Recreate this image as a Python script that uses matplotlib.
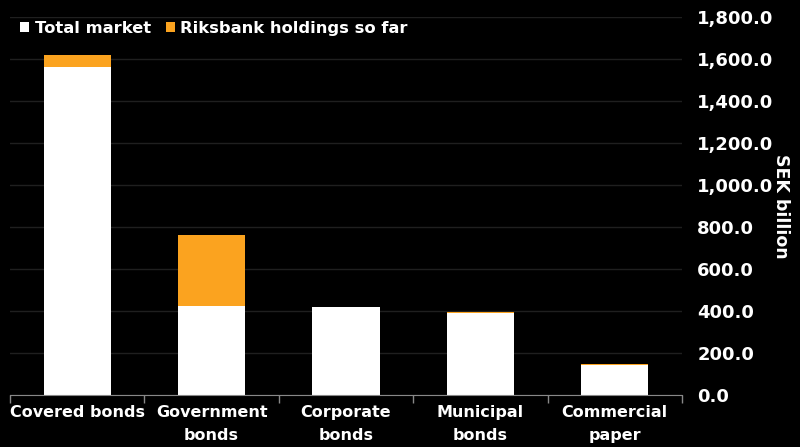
import matplotlib
matplotlib.use("Agg")
import matplotlib.pyplot as plt
from matplotlib.patches import Patch
from matplotlib.ticker import FuncFormatter, FixedLocator

categories = ["Covered bonds", "Government\nbonds", "Corporate\nbonds", "Municipal\nbonds", "Commercial\npaper"]
total_market = [1563, 424, 419, 388, 145]
riksbank_holdings = [56, 338, 0, 5, 5]
yticks = [0, 200, 400, 600, 800, 1000, 1200, 1400, 1600, 1800]

ORANGE = "#FBA31F"
BG = "#000000"
GRID = "#1f1f1f"

plt.rcParams['font.family'] = ['DejaVu Sans']
fig = plt.figure(figsize=(8, 4.47), dpi=100, facecolor=BG)
ax = fig.add_axes([0.0125, 0.1163, 0.84, 0.846], facecolor=BG)

x = list(range(len(categories)))
ax.bar(x, total_market, width=0.5, color="white", zorder=3)
ax.bar(x, riksbank_holdings, width=0.5, bottom=total_market, color=ORANGE, zorder=3)

ax.set_xlim(-0.5, len(categories) - 0.5)
ax.set_ylim(0, 1800)
ax.set_yticks(yticks)
ax.yaxis.set_major_formatter(FuncFormatter(lambda v, p: f"{v:,.1f}"))
ax.yaxis.tick_right()
ax.yaxis.set_label_position("right")
ax.tick_params(axis="y", length=0, pad=11, labelsize=13, labelcolor="white")
for lbl in ax.get_yticklabels():
    lbl.set_fontweight("bold")
ax.set_ylabel("SEK billion", rotation=270, color="white", fontsize=12.5,
              fontweight="bold", labelpad=12)

ax.set_xticks(x)
ax.set_xticklabels(categories, color="white", fontsize=11.5, fontweight="bold",
                   linespacing=1.7)
ax.tick_params(axis="x", which="major", length=0, pad=7)
ax.xaxis.set_minor_locator(FixedLocator([i - 0.5 for i in range(len(categories) + 1)]))
ax.tick_params(axis="x", which="minor", length=6, color="#888888", width=1, direction="out")

ax.grid(axis="y", color=GRID, linewidth=1, zorder=0)
for s in ["top", "left", "right"]:
    ax.spines[s].set_visible(False)
ax.spines["bottom"].set_color("#888888")
ax.spines["bottom"].set_zorder(4)

handles = [Patch(facecolor="white", label="Total market"),
           Patch(facecolor=ORANGE, label="Riksbank holdings so far")]
leg = fig.legend(handles=handles, loc="center left", bbox_to_anchor=(0.025, 0.937),
                 ncol=2, frameon=False, handlelength=0.55, handleheight=0.55,
                 handletextpad=0.35, columnspacing=0.9, borderpad=0, borderaxespad=0,
                 prop={"weight": "bold", "size": 11.8})
for t in leg.get_texts():
    t.set_color("white")

fig.savefig("out.png", dpi=100, facecolor=BG)
